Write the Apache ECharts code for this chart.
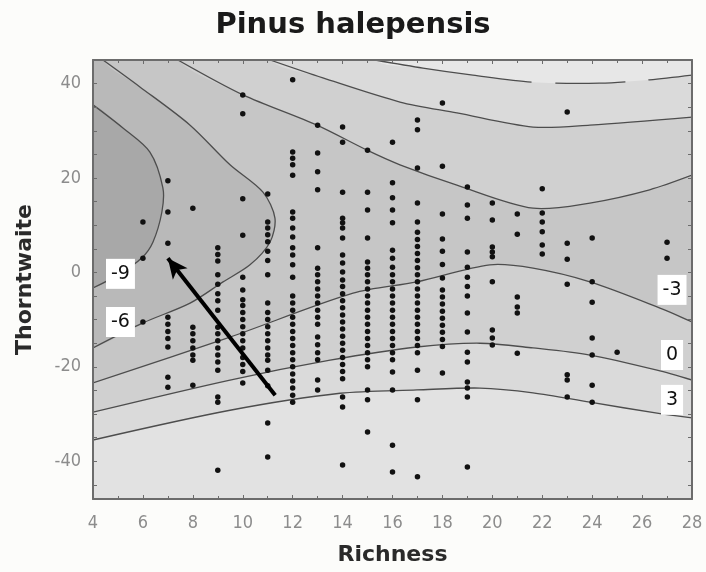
<!DOCTYPE html>
<html><head><meta charset="utf-8">
<script src="https://cdn.jsdelivr.net/npm/echarts@6/dist/echarts.min.js"></script>
<style>html,body{margin:0;padding:0;background:#fcfcfa}#c{width:706px;height:572px}</style>
</head><body><div id="c"></div><script>
// ---- axis ticks ----
const xTicks = [4, 6, 8, 10, 12, 14, 16, 18, 20, 22, 24, 26, 28];
const yTicks = [-40, -20, 0, 20, 40];
const yMinorTicks = [-45, -40, -35, -30, -25, -20, -15, -10, -5, 0, 5, 10, 15, 20, 25, 30, 35, 40, 45];

// ---- contour lines (Richness, Thorntwaite) ----
const contourM9 = [[4,35.5],[5.2,30.6],[6.28,25.5],[6.8,17.9],[6.76,12.8],[6.4,6.4],[5.96,3.1],[5.08,-0.3],[4,-3.3]];
const contourM6 = [[4.4,45],[5.88,39.3],[7.89,31.2],[9.49,22.8],[10.81,17.0],[11.29,11.5],[11.09,6.4],[10.29,1.6],[9.21,-2.0],[7.89,-6.5],[6.0,-10.7],[4,-16.0]];
const contourM3Upper = [[7.4,45],[10.01,37.6],[12.97,31.2],[14.98,25.9],[16.3,22.8],[18.58,18.5],[21.63,13.6],[23.91,14.7],[26.3,17.5],[28,20.6]];
const contour0Upper = [[11.09,45],[13.21,41.2],[16.3,36.1],[18.58,33.8],[21.63,30.8],[23.91,31.2],[28,32.9]];
const contour3Upper = [[15.3,45],[17.22,43.3],[19.22,41.8],[21.63,40.3],[24.3,40.1],[26.3,40.8],[28,41.8]];
const contourM3Lower = [[4,-23.4],[9.49,-13.7],[14.42,-4.4],[16.98,-2.0],[19.9,1.6],[21.63,0.9],[23.91,-2.0],[26.6,-7.3],[28,-10.5]];
const contour0Lower = [[4,-29.6],[9.49,-22.8],[13.5,-18.6],[16.98,-15.8],[19.5,-15.0],[21.63,-16.0],[23.91,-17.5],[26.6,-20.7],[28,-22.8]];
const contour3Lower = [[4,-35.5],[9.49,-29.2],[13.9,-25.6],[16.98,-24.9],[19.5,-24.5],[21.63,-25.5],[23.91,-27.5],[26.6,-29.8],[28,-30.8]];

// ---- contour labels ----
const labelText = ['-9', '-6', '-3', '0', '3'];
const labelPos = [[5.1,-0.3],[5.1,-10.5],[27.2,-3.7],[27.2,-17.5],[27.2,-27.0]];

// ---- arrow (tail -> head) ----
const arrowPath = [[11.3,-26.0],[7.0,3.0]];

// ---- sample sites: [Richness, [Thorntwaite values]] ----
const sites = [
 [6, [10.7, 3.0, -10.5]],
 [7, [19.4, 12.8, 6.2, -9.5, -11, -12.5, -14, -15.8, -22.2, -24.3]],
 [8, [13.6, -11.6, -13, -14.5, -16, -17.5, -18.6, -23.9]],
 [9, [5.2, 3.8, 2.4, -0.5, -2.5, -4.5, -6, -8, -11.6, -13, -14.5, -16, -17.5, -19, -20.7, -26.4, -27.5, -41.9]],
 [10, [37.6, 33.6, 15.6, 7.9, -1.0, -3.7, -5.8, -7, -8.5, -10, -11.5, -13, -14.5, -16, -18, -19.5, -21, -23.4]],
 [11, [16.6, 10.7, 9.4, 8.0, 6.5, 4.5, 2.5, -0.5, -6.5, -8.5, -10, -11.5, -13, -14.5, -16, -17.5, -18.6, -20.7, -24.0, -31.9, -39.1]],
 [12, [40.8, 25.5, 24.2, 22.8, 20.6, 12.8, 11.5, 9.4, 7.5, 5.2, 3.7, 1.6, -1.0, -5, -6.5, -8, -9.5, -11, -12.5, -14, -15.5, -17, -18.5, -20, -21.5, -23, -24.5, -26, -27.5]],
 [13, [31.2, 25.3, 21.3, 17.5, 5.2, 0.9, -0.5, -2.0, -3.5, -5, -6.5, -8, -9.5, -11, -13.7, -15.3, -17, -18.5, -22.8, -24.9]],
 [14, [30.8, 27.6, 17.0, 11.5, 10.5, 9.4, 7.3, 3.7, 2.0, 0.1, -1.6, -3, -4.5, -6, -7.5, -9, -10.5, -12, -13.5, -15, -16.5, -18, -19.5, -21, -22.5, -26.4, -28.5, -40.8]],
 [15, [25.9, 17.0, 13.2, 7.3, 2.2, 0.9, -0.5, -2.0, -3.5, -5, -6.5, -8, -9.5, -11, -12.5, -14, -15.5, -17, -18.5, -20, -24.9, -27, -33.8]],
 [16, [27.6, 19.0, 15.8, 13.2, 10.5, 4.7, 3.0, 1.1, -0.5, -2.0, -3.5, -5, -6.5, -8, -9.5, -11, -12.5, -14, -15.5, -17, -18.5, -21.1, -24.9, -36.6, -42.3]],
 [17, [32.3, 30.2, 22.1, 14.7, 10.7, 8.5, 7, 5.5, 4, 2.5, 1, -0.5, -2, -3.5, -5, -6.5, -8, -9.5, -11, -12.5, -14, -15.5, -17, -20.7, -27, -43.3]],
 [18, [35.9, 22.5, 12.4, 7.1, 4.5, 1.7, -1.2, -3.7, -5.2, -6.7, -8.2, -9.7, -11.2, -12.7, -14.2, -15.7, -21.3]],
 [19, [18.1, 14.3, 11.5, 4.3, 1.1, -1, -3, -5, -8.6, -12.6, -16.9, -19, -23.2, -24.5, -26.4, -41.2]],
 [20, [14.7, 11.1, 5.4, 4.3, 3.3, -2.0, -12.2, -13.9, -15.4]],
 [21, [12.4, 8.1, -5.2, -7.3, -8.6, -17.1]],
 [22, [17.7, 12.6, 10.7, 8.6, 5.8, 3.9]],
 [23, [34.0, 6.2, 2.8, -2.5, -21.7, -22.8, -26.4]],
 [24, [7.3, -2.0, -6.3, -13.9, -17.5, -23.9, -27.5]],
 [25, [-16.9]],
 [27, [6.4, 3.0]]
];

// ---- build ----
const XL = 3, XR = 29, YT = 52, YB = -56;
const first = a => a[0], last = a => a[a.length - 1];
function upperRegion(c) { return c.concat([[XR, last(c)[1]], [XR, YT], [first(c)[0], YT]]); }
function lowerRegion(c) { return c.concat([[XR, last(c)[1]], [XR, YB], [XL, YB], [XL, first(c)[1]]]); }
function leftRegion(c) {
  const f = first(c), l = last(c);
  const pts = (f[1] >= 45) ? [[XL, YT], [f[0], YT]] : [[XL, f[1]]];
  return pts.concat(c, [[XL, l[1]]]);
}
const baseRegion = [[XL, YT], [XR, YT], [XR, YB], [XL, YB]];

const fills = [
  [baseRegion, '#c6c6c6', 0],
  [upperRegion(contourM3Upper), '#d0d0d0', 0.3],
  [upperRegion(contour0Upper), '#dadada', 0.3],
  [upperRegion(contour3Upper), '#e7e7e7', 0.3],
  [lowerRegion(contourM3Lower), '#d0d0d0', 0.3],
  [lowerRegion(contour0Lower), '#dadada', 0.3],
  [lowerRegion(contour3Lower), '#e2e2e2', 0.3],
  [leftRegion(contourM6), '#b9b9b9', 0.3],
  [leftRegion(contourM9), '#a8a8a8', 0.3]
];
const lines = [
  [contourM9, null], [contourM6, null], [contourM3Upper, null], [contour0Upper, null],
  [contour3Upper, [158, 24, 70, 23, 60, 20]], [contourM3Lower, null], [contour0Lower, null], [contour3Lower, null]
];

const series = [];
fills.forEach(([pts, col, sm]) => {
  series.push({
    type: 'custom', clip: true, silent: true, animation: false, z: 1,
    data: [[4, 0]],
    renderItem: (params, api) => ({
      type: 'polygon',
      shape: { points: pts.map(p => api.coord(p)), smooth: sm },
      style: { fill: col }
    })
  });
});
lines.forEach(([pts, dash]) => {
  series.push({
    type: 'custom', clip: true, silent: true, animation: false, z: 2,
    data: [[4, 0]],
    renderItem: (params, api) => ({
      type: 'polyline',
      shape: { points: pts.map(p => api.coord(p)), smooth: 0.3 },
      style: { stroke: '#4d4d4d', lineWidth: 1.3, fill: 'none', lineDash: dash || null }
    })
  });
});

const sitePoints = [];
sites.forEach(([x, ys]) => ys.forEach(y => sitePoints.push([x, y])));
series.push({
  type: 'scatter', data: sitePoints, symbol: 'circle', symbolSize: 5.5, z: 3,
  itemStyle: { color: '#111111', opacity: 1 }, silent: true, animation: false
});
series.push({
  type: 'scatter', z: 5, silent: true, animation: false,
  data: labelPos.map((p, i) => ({ value: p, name: labelText[i] })),
  symbolSize: 1, itemStyle: { color: '#ffffff', opacity: 1 },
  label: {
    show: true, position: 'inside', formatter: '{b}', opacity: 1,
    backgroundColor: '#ffffff', padding: [6, 5, 5, 5],
    fontSize: 19, color: '#111', fontFamily: 'DejaVu Sans'
  }
});
series.push({
  type: 'scatter', data: [], z: 6, animation: false,
  markLine: {
    silent: true, animation: false, symbol: ['none', 'arrow'], symbolSize: [14, 20],
    label: { show: false },
    lineStyle: { color: '#000', width: 4, type: 'solid', opacity: 1 },
    data: [[{ coord: arrowPath[0] }, { coord: arrowPath[1] }]]
  }
});

const tickFont = "'DejaVu Sans Condensed', 'Liberation Sans', sans-serif";
const frame = { show: true, onZero: false, lineStyle: { color: '#6c6c6c', width: 2 } };
const tickStyle = { color: '#6c6c6c', width: 1 };
const option = {
  backgroundColor: '#fcfcfa',
  animation: false,
  title: {
    text: 'Pinus halepensis', left: 'center', top: 6,
    textStyle: { fontSize: 29, fontWeight: 'bold', fontFamily: 'DejaVu Sans', color: '#1a1a1a' }
  },
  grid: { left: 93, right: 14, top: 60, bottom: 73, show: false },
  xAxis: [{
    type: 'value', min: 4, max: 28, interval: 2, position: 'bottom', z: 10,
    axisLine: frame,
    axisTick: { show: true, inside: true, length: 4, lineStyle: tickStyle },
    minorTick: { show: true, splitNumber: 2, length: 3, lineStyle: tickStyle },
    splitLine: { show: false },
    axisLabel: { color: '#8c8c8c', fontSize: 18, fontFamily: tickFont, margin: 15,
      customValues: xTicks },
    name: 'Richness', nameLocation: 'middle', nameGap: 45,
    nameTextStyle: { fontSize: 22, fontWeight: 'bold', fontFamily: 'DejaVu Sans', color: '#2a2a2a' }
  }, {
    type: 'value', min: 4, max: 28, interval: 2, position: 'top', z: 10,
    axisLine: frame,
    axisTick: { show: true, inside: true, length: 4, lineStyle: tickStyle },
    minorTick: { show: true, splitNumber: 2, length: 3, lineStyle: tickStyle },
    splitLine: { show: false }, axisLabel: { show: false }
  }],
  yAxis: [{
    type: 'value', min: -48, max: 45, position: 'left', z: 10,
    axisLine: frame,
    axisTick: { show: true, inside: true, length: 4, lineStyle: tickStyle, customValues: yMinorTicks },
    splitLine: { show: false },
    axisLabel: { color: '#8c8c8c', fontSize: 18, fontFamily: tickFont, margin: 12,
      customValues: yTicks },
    name: 'Thorntwaite', nameLocation: 'middle', nameGap: 57, nameRotate: 90,
    nameTextStyle: { fontSize: 22, fontWeight: 'bold', fontFamily: 'DejaVu Sans', color: '#2a2a2a' }
  }, {
    type: 'value', min: -48, max: 45, position: 'right', z: 10,
    axisLine: frame,
    axisTick: { show: true, inside: true, length: 4, lineStyle: tickStyle, customValues: yMinorTicks },
    splitLine: { show: false }, axisLabel: { show: false }
  }],
  series: series
};
const chart = echarts.init(document.getElementById('c'), null, { renderer: 'canvas' });
chart.setOption(option);
</script></body></html>
